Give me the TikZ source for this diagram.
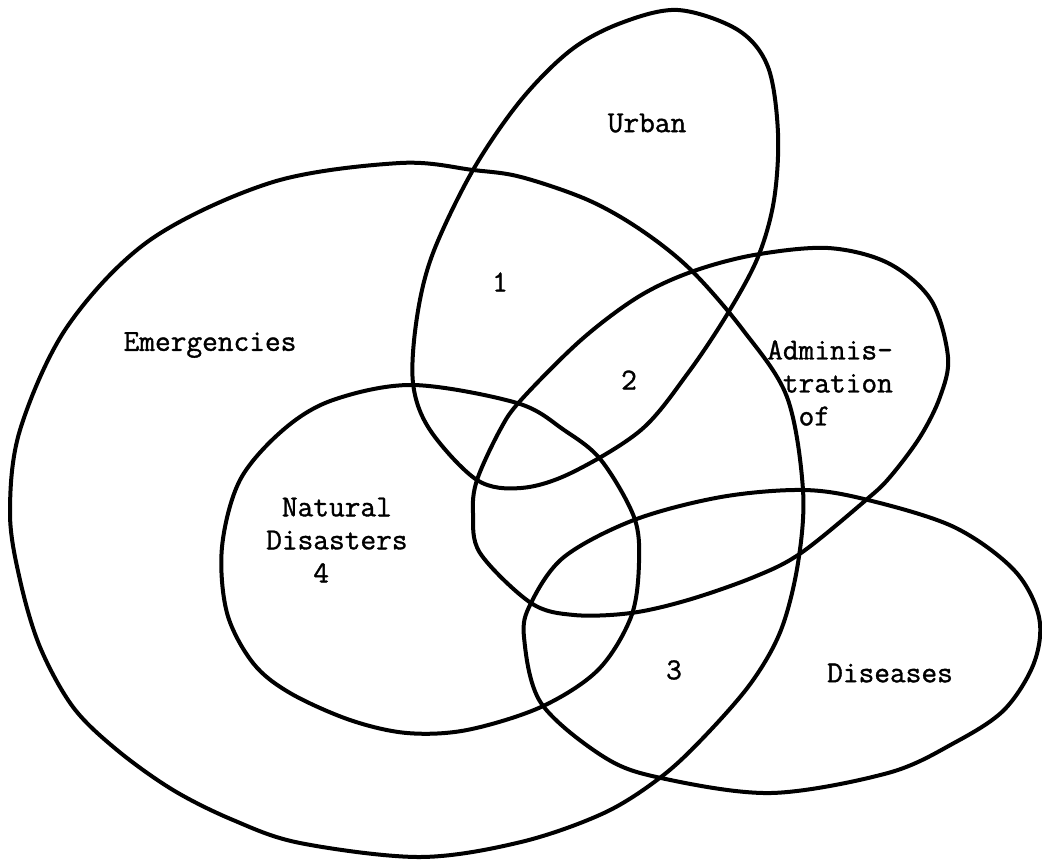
\documentclass[tikz,border=0pt]{standalone}
\usepackage{fontspec}
\newfontfamily\typew[FakeBold=1.2]{Latin Modern Mono}
\begin{document}
\begin{tikzpicture}[x=1pt,y=-1pt,
  curve/.style={draw=black,line width=4pt,line join=round,smooth cycle,tension=0.55},
  lbl/.style={font=\fontsize{30.5}{33}\selectfont\typew,inner sep=0pt,text=black}]
\useasboundingbox (0,0) rectangle (1042,860);
% Emergencies
\draw[curve] plot coordinates {(400,163) (473,170) (521,177) (588,200) (641,230) (691,270) (743,330) (787,397) (803,490) (798,563) (781,630) (751,683) (704,737) (661,777) (604,813) (521,842) (420,857) (300,843) (233,820) (173,790) (117,750) (73,707) (40,647) (20,580) (10,513) (20,430) (67,327) (150,240) (273,182)};
% Urban
\draw[curve] plot coordinates {(678,10) (738,30) (768,67) (778,133) (774,200) (758,257) (728,313) (688,373) (641,430) (571,473) (521,488) (477,480) (430,430) (413,383) (417,317) (433,253) (473,170) (521,100) (571,50) (621,23)};
% Natural Disasters
\draw[curve] plot coordinates {(413,385) (517,403) (564,430) (601,460) (634,517) (639,563) (631,617) (598,670) (541,707) (467,730) (407,733) (350,720) (290,693) (253,663) (227,613) (222,547) (240,480) (283,430) (333,400)};
% Administration
\draw[curve] plot coordinates {(521,400) (581,340) (638,297) (691,272) (754,255) (828,248) (888,263) (931,300) (948,357) (940,397) (920,437) (890,477) (866,500) (801,553) (754,577) (688,600) (631,613) (574,615) (531,603) (480,553) (473,513) (477,480) (500,430)};
% Diseases
\draw[curve] plot coordinates {(804,490) (868,500) (954,527) (1014,570) (1039,617) (1034,663) (1004,710) (954,743) (888,773) (771,793) (661,778) (604,757) (541,703) (524,637) (531,603) (564,557) (634,520) (721,497)};
% labels
\node[lbl] (emerg) at (210,345) {Emergencies};
\node[lbl] (urban) at (647,123) {Urban};
\node[lbl] (one) at (500,282) {1};
\node[lbl] (two) at (629,380) {2};
\node[lbl,anchor=west,align=left] (admin) at (767,383) {Adminis-\\\phantom{A}tration\\\phantom{AA}of};
\node[lbl,anchor=west,align=left] (natural) at (266,540) {\phantom{D}Natural\\Disasters\\\phantom{DDD}4};
\node[lbl] (three) at (674,670) {3};
\node[lbl] (dis) at (890,673) {Diseases};
\end{tikzpicture}
\end{document}
